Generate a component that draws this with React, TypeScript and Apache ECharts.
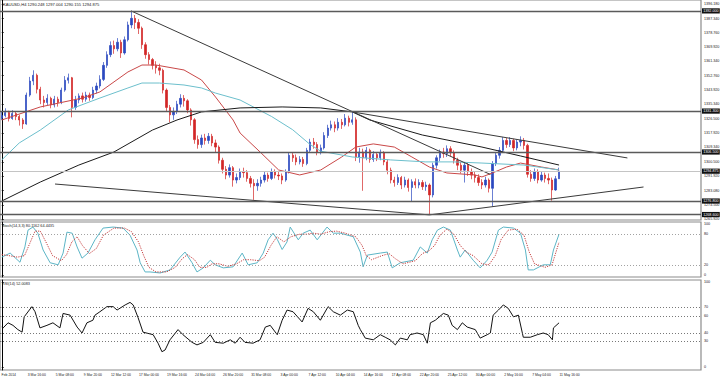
import React, { useEffect, useRef } from "react";
import * as echarts from "echarts";

// ---------- data ----------
const SLOTS = 200; // bar slots visible across the chart width (2 x H4 per candle)
const firstOpen = 1327.0;
const closes = [
  1328.6, 1330.4, 1326.8, 1329.8, 1328.0, 1325.9, 1323.5, 1341.0, 1349.5, 1353.0,
  1344.5, 1338.0, 1336.5, 1339.0, 1335.0, 1338.5, 1336.5, 1344.0, 1350.0, 1351.5,
  1333.5, 1338.0, 1340.5, 1338.5, 1341.0, 1339.5, 1344.0, 1346.5, 1350.5, 1359.0,
  1365.5, 1371.0, 1369.0, 1373.0, 1366.5, 1374.5, 1383.5, 1387.5, 1385.0, 1381.5,
  1371.5, 1365.5, 1362.5, 1359.0, 1357.5, 1356.0, 1344.0, 1333.5, 1329.0, 1331.0,
  1335.5, 1339.0, 1337.5, 1332.0, 1326.0, 1314.0, 1311.0, 1315.0, 1313.5, 1316.0,
  1312.0, 1309.5, 1301.5, 1296.0, 1292.5, 1297.0, 1289.5, 1291.0, 1294.5, 1294.0,
  1290.5, 1287.5, 1286.0, 1287.5, 1289.5, 1292.5, 1290.5, 1294.5, 1292.5, 1292.0,
  1289.5, 1294.5, 1304.5, 1303.0, 1300.5, 1302.0, 1299.5, 1307.5, 1312.5, 1311.0,
  1306.5, 1309.0, 1316.5, 1321.0, 1323.0, 1321.0, 1324.5, 1323.0, 1327.0, 1324.5,
  1326.0, 1303.5, 1306.5, 1303.0, 1307.5, 1302.0, 1305.0, 1303.0, 1306.0, 1300.5,
  1295.5, 1289.5, 1288.0, 1291.0, 1286.5, 1289.5, 1285.0, 1288.5, 1286.5, 1288.0,
  1285.5, 1286.5, 1280.5, 1298.5, 1303.0, 1306.5, 1305.5, 1308.5, 1306.0, 1301.5,
  1298.5, 1295.5, 1298.5, 1294.5, 1292.5, 1291.0, 1288.0, 1286.5, 1289.5, 1284.5,
  1299.5, 1304.5, 1307.5, 1313.5, 1311.0, 1313.5, 1309.0, 1312.5, 1313.5, 1310.5,
  1293.0, 1290.5, 1294.5, 1289.5, 1292.5, 1290.5, 1289.5, 1283.5, 1290.248, 1294.875,
];
const highs = [
  1331.0, 1333.0, 1331.5, 1331.8, 1331.0, 1329.0, 1327.0, 1342.5, 1352.0, 1356.0,
  1354.0, 1346.0, 1340.5, 1341.5, 1340.0, 1340.5, 1340.0, 1345.5, 1352.5, 1354.0,
  1352.0, 1340.5, 1342.0, 1342.5, 1343.0, 1342.5, 1346.0, 1348.5, 1353.0, 1361.0,
  1367.5, 1373.5, 1374.0, 1375.5, 1374.5, 1376.5, 1385.5, 1392.0, 1389.5, 1387.0,
  1382.5, 1373.0, 1367.0, 1363.5, 1361.5, 1360.0, 1357.0, 1345.0, 1335.0, 1333.5,
  1337.5, 1341.5, 1341.0, 1338.5, 1333.0, 1327.0, 1316.5, 1317.0, 1317.5, 1318.0,
  1317.5, 1314.0, 1310.5, 1303.0, 1298.0, 1299.0, 1298.0, 1293.5, 1296.5, 1297.0,
  1295.5, 1292.0, 1290.0, 1290.0, 1291.5, 1294.5, 1294.0, 1296.5, 1296.0, 1295.0,
  1293.5, 1296.0, 1306.5, 1306.0, 1305.0, 1304.0, 1303.5, 1309.0, 1314.5, 1315.0,
  1312.5, 1311.0, 1318.5, 1323.0, 1325.5, 1325.0, 1327.0, 1326.5, 1329.5, 1328.5,
  1331.0, 1327.5, 1309.0, 1308.5, 1309.5, 1308.5, 1307.0, 1306.5, 1308.0, 1307.0,
  1302.0, 1297.0, 1291.5, 1293.0, 1292.0, 1291.5, 1290.5, 1290.0, 1290.5, 1290.0,
  1289.5, 1288.5, 1287.5, 1300.0, 1304.5, 1308.0, 1309.0, 1310.5, 1310.0, 1307.5,
  1303.0, 1300.5, 1300.5, 1300.0, 1296.5, 1294.5, 1293.0, 1290.0, 1291.5, 1290.5,
  1301.0, 1306.5, 1309.5, 1315.5, 1315.0, 1315.5, 1314.5, 1314.0, 1316.0, 1315.0,
  1311.5, 1295.5, 1296.5, 1296.0, 1294.5, 1294.0, 1293.5, 1291.0, 1292.0, 1297.004,
];
const lows = [
  1326.0, 1327.5, 1325.0, 1326.0, 1325.8, 1322.5, 1320.5, 1323.0, 1340.0, 1347.0,
  1342.0, 1335.5, 1333.5, 1335.0, 1333.0, 1333.5, 1334.0, 1335.5, 1343.0, 1348.0,
  1327.5, 1332.0, 1336.0, 1336.5, 1337.0, 1337.5, 1338.5, 1342.0, 1345.0, 1349.5,
  1357.5, 1364.0, 1366.0, 1367.5, 1363.5, 1365.5, 1373.5, 1381.5, 1381.0, 1378.0,
  1369.0, 1363.0, 1359.5, 1356.5, 1354.0, 1353.0, 1342.0, 1331.0, 1324.5, 1326.0,
  1329.5, 1333.5, 1334.0, 1330.0, 1322.5, 1311.5, 1308.5, 1309.0, 1311.0, 1311.5,
  1310.0, 1306.5, 1299.5, 1293.5, 1290.0, 1291.0, 1285.5, 1287.5, 1289.5, 1291.0,
  1288.5, 1285.0, 1277.5, 1283.0, 1285.5, 1288.0, 1288.5, 1289.5, 1290.5, 1289.5,
  1287.0, 1288.5, 1293.5, 1300.5, 1298.5, 1299.0, 1297.5, 1298.5, 1306.0, 1308.5,
  1304.5, 1305.0, 1308.0, 1315.0, 1319.5, 1318.5, 1319.5, 1320.5, 1322.0, 1322.0,
  1323.0, 1301.0, 1300.0, 1283.0, 1301.5, 1300.0, 1300.5, 1301.0, 1301.5, 1298.5,
  1293.0, 1287.5, 1285.5, 1286.5, 1284.0, 1285.0, 1282.5, 1276.5, 1284.5, 1284.5,
  1283.5, 1283.0, 1268.4, 1279.0, 1296.5, 1301.0, 1303.0, 1303.5, 1304.0, 1299.5,
  1295.5, 1293.5, 1288.0, 1292.0, 1290.0, 1288.0, 1286.0, 1284.0, 1285.0, 1282.0,
  1273.5, 1298.0, 1302.5, 1306.0, 1309.0, 1309.5, 1307.0, 1307.5, 1310.0, 1308.0,
  1291.0, 1288.5, 1289.0, 1287.5, 1288.5, 1288.0, 1287.0, 1277.0, 1283.0, 1290.155,
];

const maRed = [[0,1325.9],[11,1333.8],[23,1339.2],[28,1342.9],[36,1355.0],[40,1359.2],[44,1359.2],[52,1356.2],[57,1350.1],[61,1339.8],[66,1325.9],[68,1318.0],[74,1305.9],[79,1295.6],[85,1292.6],[91,1295.6],[97,1303.5],[101,1309.5],[106,1311.4],[112,1309.5],[117,1303.5],[122,1297.4],[127,1293.8],[135,1292.6],[137,1291.4],[140,1293.8],[144,1297.4],[148,1299.8],[154,1297.4],[159,1295.6]];
const maTeal = [[0,1301.7],[5,1312.0],[11,1319.8],[19,1332.0],[28,1339.2],[36,1345.3],[40,1348.3],[45,1348.3],[52,1347.1],[57,1345.3],[61,1342.2],[68,1338.0],[77,1328.0],[83,1320.0],[88,1311.0],[91,1307.0],[100,1303.5],[111,1301.7],[121,1300.5],[129,1300.5],[137,1299.8],[149,1298.6],[159,1295.6]];
const maBlack = [[0,1276.8],[11,1288.3],[22,1298.6],[32,1306.5],[43,1319.8],[50,1325.9],[57,1330.8],[68,1333.2],[80,1333.8],[91,1333.2],[100,1330.8],[105,1325.9],[120,1316.8],[137,1309.5],[148,1304.1],[159,1298.6]];

const trendLines = [
  [[36.9, 1392.0], [139.4, 1292.9]],
  [[100.3, 1330.7], [178.5, 1302.9]],
  [[15.2, 1287.1], [122, 1268.4]],
  [[122, 1268.4], [183.1, 1285.3]],
];
const levels = [1392.0, 1331.3, 1306.5, 1276.8, 1268.6];
const bidPrice = 1294.875;

const priceTicks = [1396.18, 1387.34, 1378.76, 1369.92, 1361.34, 1352.76, 1343.92, 1335.34, 1326.5, 1317.92, 1309.34, 1300.5, 1291.92, 1283.08, 1274.5, 1265.92];
const stochTicks = [0, 20, 80, 100];
const rsiTicks = [0, 30, 40, 60, 70, 100];

const stochK = [[0,35],[2.4,43],[5.2,25],[6.6,55],[7.5,88],[8.9,94],[10.3,82],[11.8,49],[13.8,24],[16.1,20],[17.5,43],[18.6,84],[20.1,82],[21.5,55],[22.9,33],[24.6,43],[26.6,69],[28.9,92],[31.8,94],[34.6,92],[36.6,78],[38.6,49],[39.5,24],[40.9,6],[42.3,6],[45.2,4],[48,10],[50.9,35],[52.3,45],[54.3,24],[55.7,6],[57.5,14],[59.5,29],[60.9,20],[63.2,14],[66,16],[68.6,43],[70.3,20],[72.9,24],[74.6,43],[76,69],[77.4,82],[78.6,70],[80,50],[81.4,65],[82.3,94],[84.6,69],[86,82],[88,88],[90,69],[92.8,94],[94.6,82],[96.6,82],[100.3,75],[102.3,45],[103.1,16],[104.3,39],[108,43],[110,45],[111.4,14],[113.7,24],[117.4,29],[119.4,55],[121.4,43],[122.8,69],[124.3,88],[126,94],[128,88],[130,49],[130.8,35],[132.2,49],[134.5,29],[136.5,14],[138.5,29],[139.9,45],[141.7,88],[143.1,94],[146,92],[148,82],[149.4,49],[150.2,10],[151.7,10],[154.5,20],[156.5,20],[157.4,49],[159,80.1]];
const stochD = [[0,40],[2,38],[4.5,35],[6.5,38],[8,62],[9.5,86],[11,86],[12.8,62],[14.5,38],[17,28],[18.5,40],[20,65],[21.5,75],[23,58],[25,42],[27,52],[29,78],[32,92],[35,92],[37,85],[39,65],[40.5,38],[42,15],[44,6],[47,6],[49.5,15],[51.5,32],[53,40],[55,30],[56.5,15],[58.5,15],[60,22],[62,22],[64.5,17],[67,22],[69,30],[71,30],[73.5,28],[75,35],[76.8,58],[78.5,75],[80.5,65],[82.5,75],[85,80],[87,80],[89,82],[91,80],[93.5,85],[95.5,86],[98,82],[101,75],[102.8,58],[104,38],[105.5,30],[108.5,38],[110.5,42],[112.3,32],[114.5,22],[118,28],[120,42],[122,48],[123.5,58],[125,78],[127,90],[129,80],[130.8,58],[132.5,45],[134.5,38],[137,22],[139,20],[140.8,38],[142.5,70],[144.5,88],[147,90],[149,78],[150.5,45],[152,22],[155,15],[157,20],[159,64.4]];
const rsi = [[0,47],[0.4,46],[1.8,52],[3.2,49],[4.6,44],[5.8,41],[6.4,59],[8.6,71],[9.5,65],[10.9,46],[12.9,49],[14.6,52],[16.6,46],[17.5,63],[19.5,61],[21.5,47],[22.9,40],[24.3,52],[26,55],[26.6,61],[28,65],[30,71],[31.8,71],[32.9,67],[35.2,73],[36.6,76],[37.5,73],[38.9,58],[40.3,41],[43.2,38],[44.6,28],[45.7,18],[46.6,20],[48,32],[50.3,44],[51.7,38],[54.3,29],[55.7,26],[57.5,29],[59.5,38],[60.9,29],[63.2,28],[65.2,32],[66.6,28],[68,35],[69.4,29],[71.7,28],[73.7,32],[75.2,47],[76.6,49],[78.6,38],[80,55],[81.4,67],[83.1,65],[85.7,53],[87.4,69],[88.9,65],[90.9,55],[93.1,71],[94.6,65],[96.6,61],[98.6,67],[100.3,65],[101.7,49],[102.3,44],[103.7,34],[106,32],[108,38],[109.4,35],[110.8,32],[112.3,26],[113.7,34],[115.7,32],[116.5,38],[118.5,40],[120.3,38],[121.4,28],[122.3,52],[123.7,55],[126,63],[127.4,61],[128.5,49],[130,44],[131.4,52],[132.8,47],[135.1,44],[136.5,34],[138.5,38],[139.4,40],[140.2,61],[141.7,67],[143.1,73],[144.5,69],[146,59],[147.4,61],[148.8,35],[150.8,35],[152.8,38],[154.5,40],[155.9,38],[157.1,32],[157.4,46],[159,52]];

const xTickLabels = ["Feb 2014","3 Mar 16:00","5 Mar 08:00","9 Mar 20:00","12 Mar 12:00","17 Mar 00:00","19 Mar 16:00","24 Mar 04:00","26 Mar 20:00","31 Mar 08:00","3 Apr 00:00","7 Apr 12:00","10 Apr 04:00","14 Apr 16:00","17 Apr 08:00","22 Apr 20:00","25 Apr 12:00","30 Apr 00:00","2 May 16:00","7 May 04:00","11 May 16:00"];
const xTickFirst = 2;
const xTickEvery = 8;

const titleText = "XAUUSD,H4 1290.248 1297.004 1290.155 1294.875";
const stochTitle = "Stoch(14,3,3) 80.1162 64.4435";
const rsiTitle = "RSI(14) 52.0083";

// ---------- chart ----------
const FONT = "Liberation Sans";
const BULL = "#2b49c0";
const BEAR = "#d22626";

function buildOption() {
  const cats = Array.from({ length: SLOTS }, (_, i) => String(i));
  const labelCats = cats.map((_, i) => {
    const k = (i - xTickFirst) / xTickEvery;
    return i >= xTickFirst && Number.isInteger(k) && xTickLabels[k] ? xTickLabels[k] : "";
  });
  const candles = closes.map((c, i) => [i === 0 ? firstOpen : closes[i - 1], c, lows[i], highs[i]]);
  const gridBase = { left: 0, width: 701, show: true, borderColor: "#8c8c8c", borderWidth: 1.2, outerBoundsMode: "none" };
  const lineS = (data: number[][], xi: number, yi: number, color: string, type = "solid", width = 1) => ({
    type: "line", xAxisIndex: xi, yAxisIndex: yi, data, symbol: "none", silent: true,
    lineStyle: { color, width, type }, z: 3,
  });
  const labelStyle = { fontSize: 3.7, color: "#222", fontFamily: FONT, margin: 3 };

  return {
    animation: false,
    backgroundColor: "#ffffff",
    grid: [
      { ...gridBase, top: 0, height: 220 },
      { ...gridBase, top: 222, height: 55 },
      { ...gridBase, top: 280, height: 90 },
    ],
    xAxis: [
      { type: "category", gridIndex: 0, data: cats, show: false },
      { type: "value", gridIndex: 0, min: -0.5, max: SLOTS - 0.5, show: false },
      { type: "value", gridIndex: 1, min: -0.5, max: SLOTS - 0.5, show: false },
      { type: "value", gridIndex: 2, min: -0.5, max: SLOTS - 0.5, show: false },
      {
        type: "category", gridIndex: 2, data: labelCats, position: "bottom",
        axisLine: { show: false }, axisTick: { show: false },
        axisLabel: { interval: 0, fontSize: 3.4, color: "#222", fontFamily: FONT, margin: 3, hideOverlap: false },
      },
    ],
    yAxis: [
      {
        type: "value", gridIndex: 0, position: "right", min: 1265.3, max: 1398.6,
        axisLine: { show: true, lineStyle: { color: "#000", width: 1 } },
        axisTick: { show: true, customValues: priceTicks, length: 2, lineStyle: { color: "#000", width: 0.8 } },
        axisLabel: { ...labelStyle, customValues: priceTicks, formatter: (v: number) => v.toFixed(3) },
        splitLine: { show: false },
      },
      {
        type: "value", gridIndex: 1, position: "right", min: -3.9, max: 103.9,
        axisLine: { show: true, lineStyle: { color: "#000", width: 1 } },
        axisTick: { show: true, customValues: stochTicks, length: 2, lineStyle: { color: "#000", width: 0.8 } },
        axisLabel: { ...labelStyle, customValues: stochTicks, formatter: (v: number) => String(Math.round(v)) },
        splitLine: { show: false },
      },
      {
        type: "value", gridIndex: 2, position: "right", min: -3.53, max: 102.35,
        axisLine: { show: true, lineStyle: { color: "#000", width: 1 } },
        axisTick: { show: true, customValues: rsiTicks, length: 2, lineStyle: { color: "#000", width: 0.8 } },
        axisLabel: { ...labelStyle, customValues: rsiTicks, formatter: (v: number) => String(Math.round(v)) },
        splitLine: { show: false },
      },
    ],
    series: [
      {
        type: "candlestick", xAxisIndex: 0, yAxisIndex: 0, data: candles, barWidth: 1.8, silent: true,
        itemStyle: { color: BULL, color0: BEAR, borderColor: BULL, borderColor0: BEAR, borderWidth: 0.7 },
        markLine: {
          symbol: "none", silent: true, precision: 3,
          label: {
            position: "end", distance: 1, fontSize: 3.7, fontFamily: FONT, color: "#fff",
            backgroundColor: "#111", padding: [0.6, 1.2],
            formatter: (p: any) => Number(p.value).toFixed(3),
          },
          data: [
            ...levels.map((v) => ({ yAxis: v, lineStyle: { color: "#5a5a5a", width: 1.3, type: "solid" } })),
            { yAxis: bidPrice, lineStyle: { color: "#c4c4c4", width: 1, type: "solid" } },
          ],
        },
      },
      lineS(maRed, 1, 0, "#c94848"),
      lineS(maTeal, 1, 0, "#6cbfcc"),
      lineS(maBlack, 1, 0, "#1a1a1a"),
      ...trendLines.map((t) => lineS(t, 1, 0, "#3a3a3a")),
      {
        ...lineS(stochK, 2, 1, "#5cb5c6"),
        markLine: {
          symbol: "none", silent: true, label: { show: false },
          lineStyle: { color: "#8a8a8a", width: 0.8, type: [1, 2] },
          data: [{ yAxis: 80 }, { yAxis: 20 }],
        },
      },
      lineS(stochD, 2, 1, "#c43c3c", [1.2, 1.2] as any),
      {
        ...lineS(rsi, 3, 2, "#111"),
        markLine: {
          symbol: "none", silent: true, label: { show: false },
          lineStyle: { color: "#555", width: 0.8, type: [1, 2] },
          data: [{ yAxis: 70 }, { yAxis: 60 }, { yAxis: 40 }, { yAxis: 30 }],
        },
      },
    ],
    graphic: [
      { type: "text", x: 3, y: 2, silent: true, style: { text: titleText, fontSize: 4.1, fontFamily: FONT, fill: "#222" } },
      { type: "text", x: 2, y: 223.5, silent: true, style: { text: stochTitle, fontSize: 3.8, fontFamily: FONT, fill: "#222" } },
      { type: "text", x: 2, y: 281.5, silent: true, style: { text: rsiTitle, fontSize: 3.8, fontFamily: FONT, fill: "#222" } },
    ],
  };
}

export default function App() {
  const ref = useRef<HTMLDivElement>(null);
  useEffect(() => {
    if (!ref.current) return;
    const chart = echarts.init(ref.current, null, { renderer: "svg", width: 720, height: 378 });
    chart.setOption(buildOption() as any);
    return () => chart.dispose();
  }, []);
  return (
    <div
      ref={ref}
      style={{ position: "fixed", left: 0, top: 0, width: 720, height: 378, background: "#fff" }}
    />
  );
}
